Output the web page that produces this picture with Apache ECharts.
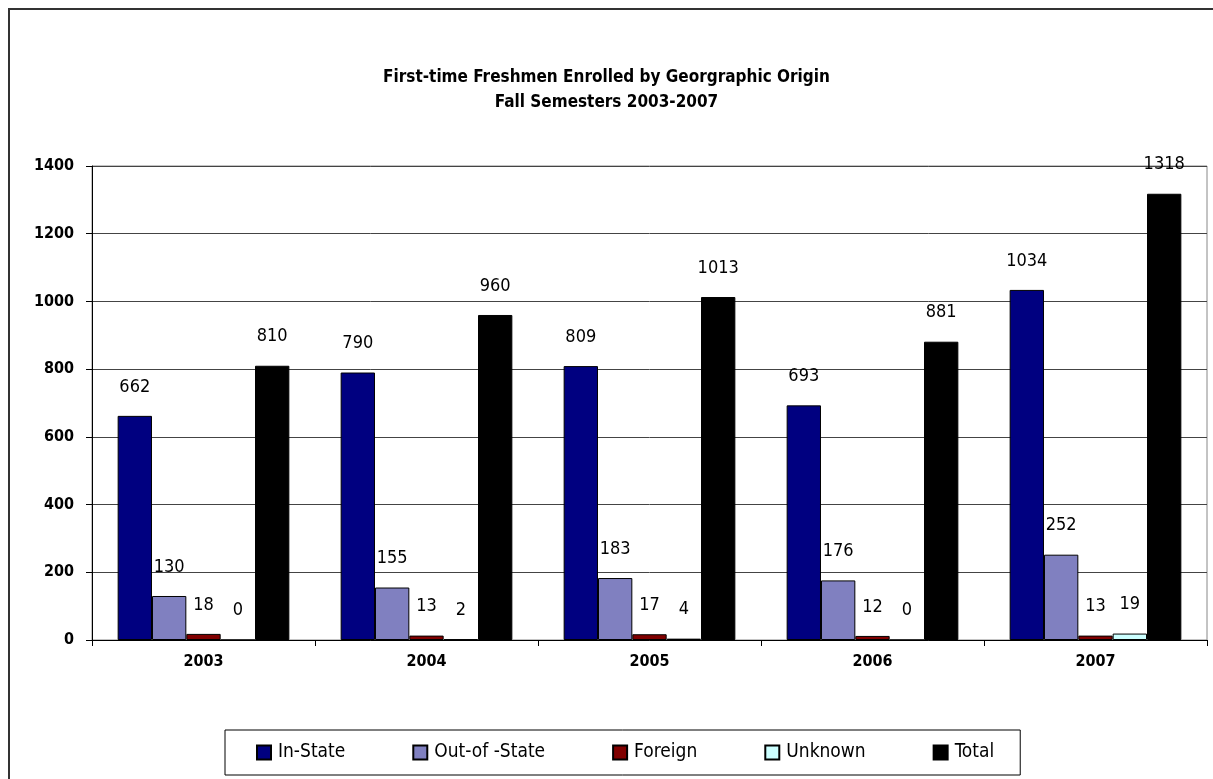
<!DOCTYPE html>
<html>
<head>
<meta charset="utf-8">
<title>First-time Freshmen Enrolled by Georgraphic Origin</title>
<script src="https://cdn.jsdelivr.net/npm/echarts@6/dist/echarts.min.js"></script>
<style>
  html, body { margin: 0; padding: 0; background: #fff; }
  #chart { width: 1213px; height: 779px; }
</style>
</head>
<body>
<div id="chart"></div>
<script>
// categories & series values
const years = ['2003', '2004', '2005', '2006', '2007']
const inState = [662, 790, 809, 693, 1034]
const outOfState = [130, 155, 183, 176, 252]
const foreign = [18, 13, 17, 12, 13]
const unknown = [0, 2, 4, 0, 19]
const total = [810, 960, 1013, 881, 1318]

const FONT = '"Liberation Sans Narrow", "DejaVu Sans Condensed", "Liberation Sans", sans-serif'

const SERIES = [
  { name: 'In-State', data: inState, color: '#000080' },
  { name: 'Out-of -State', data: outOfState, color: '#8080C0' },
  { name: 'Foreign', data: foreign, color: '#800000' },
  { name: 'Unknown', data: unknown, color: '#CCFFFF' },
  { name: 'Total', data: total, color: '#000000' },
]

const chart = echarts.init(document.getElementById('chart'))

chart.setOption({
  animation: false,
  backgroundColor: '#fff',
  textStyle: { fontFamily: FONT },
  title: {
    text: 'First-time Freshmen Enrolled by Georgraphic Origin\nFall Semesters 2003-2007',
    left: 'center',
    top: 60,
    textStyle: {
      fontFamily: FONT,
      fontSize: 17,
      fontWeight: 'bold',
      color: '#000',
      lineHeight: 25,
    },
  },
  graphic: [
    {
      type: 'rect',
      shape: { x: 9, y: 9, width: 1220, height: 790 },
      style: { fill: 'none', stroke: '#333', lineWidth: 2 },
      silent: true,
    },
  ],
  legend: {
    left: 225,
    top: 730,
    padding: [13, 26, 13, 31],
    itemGap: 67,
    itemWidth: 14,
    itemHeight: 14,
    borderColor: '#000',
    borderWidth: 1,
    icon: 'rect',
    textStyle: { fontFamily: FONT, fontSize: 19, color: '#000', padding: [0, 0, 0, 2] },
  },
  grid: {
    left: 92,
    right: 6,
    top: 166,
    bottom: 139,
    show: true,
    borderColor: '#888',
    borderWidth: 1,
  },
  xAxis: {
    type: 'category',
    data: years,
    axisLine: { lineStyle: { color: '#000', width: 1 } },
    axisTick: { show: true, length: 6, lineStyle: { color: '#000' } },
    axisLabel: { fontFamily: FONT, fontSize: 16, fontWeight: 'bold', color: '#000', margin: 14 },
  },
  yAxis: {
    type: 'value',
    min: 0,
    max: 1400,
    interval: 200,
    axisLine: { show: true, lineStyle: { color: '#000', width: 1 } },
    axisTick: { show: true, length: 6, lineStyle: { color: '#000' } },
    splitLine: { show: true, lineStyle: { color: '#444', width: 1 } },
    axisLabel: {
      fontFamily: FONT,
      fontSize: 16,
      fontWeight: 'bold',
      color: '#000',
      margin: 18,
      formatter: (v) => String(v),
    },
  },
  series: SERIES.map((s) => ({
    name: s.name,
    type: 'bar',
    data: s.data,
    barGap: '0%',
    barCategoryGap: '23%',
    itemStyle: { color: s.color, borderColor: '#000', borderWidth: 1 },
    label: {
      show: true,
      position: 'top',
      distance: 20,
      fontFamily: FONT,
      fontSize: 18,
      color: '#000',
    },
  })),
})
</script>
</body>
</html>
